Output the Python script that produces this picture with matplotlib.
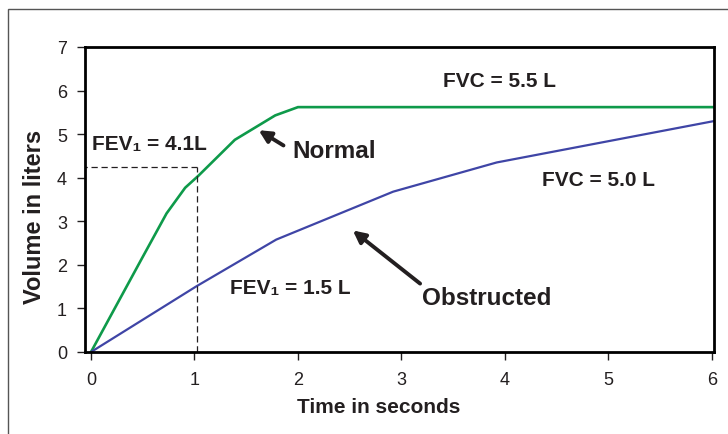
import matplotlib.pyplot as plt
from matplotlib.patches import Rectangle

plt.rcParams['font.family'] = ['Liberation Sans', 'DejaVu Sans']

# spirometry curves (time in s, volume in L)
normal_t = [0, 0.49, 0.73, 0.91, 1.04, 1.39, 1.78, 2.0, 6.02]
normal_v = [0, 2.14, 3.18, 3.77, 4.05, 4.87, 5.43, 5.62, 5.62]
obstr_t = [0, 1.02, 1.79, 2.92, 3.92, 6.02]
obstr_v = [0, 1.51, 2.58, 3.68, 4.35, 5.30]

fev1_t = 1.02
fev1_v = 4.24

x_ticks = [0, 1, 2, 3, 4, 5, 6]
y_ticks = [0, 1, 2, 3, 4, 5, 6, 7]

txt = '#231f20'
green = '#0e9a4a'
blue = '#3f45a6'

fig = plt.figure(figsize=(7.28, 4.35), dpi=100)
# outer frame of the figure (only left/top visible)
fig.patches.append(Rectangle((8 / 728, -0.1), 1.2, 1 - 10 / 435 + 0.1,
                             transform=fig.transFigure, fill=False,
                             edgecolor='#555555', lw=1.0))

ax = fig.add_axes([85 / 728, 82 / 435, 629 / 728, 305 / 435])

ax.plot(normal_t, normal_v, color=green, lw=1.9, solid_joinstyle='miter')
ax.plot(obstr_t, obstr_v, color=blue, lw=1.6)

# FEV1 guide lines
ax.plot([-0.1, fev1_t], [fev1_v, fev1_v], color=txt, lw=0.9, ls=(0, (5, 3)))
ax.plot([fev1_t, fev1_t], [0, fev1_v], color=txt, lw=0.9, ls=(0, (5, 3)))

ax.set_xlim(-0.058, 6.02)
ax.set_ylim(0, 7)
ax.set_xticks(x_ticks)
ax.set_yticks(y_ticks)
ax.tick_params(axis='both', direction='out', length=6, width=1.0,
               labelsize=13, colors=txt, labelcolor=txt)
ax.tick_params(axis='x', pad=8)
ax.tick_params(axis='y', pad=7)
for s in ax.spines.values():
    s.set_linewidth(2.0)
    s.set_color('black')

ax.set_xlabel('Time in seconds', fontsize=15, fontweight='bold', color=txt,
              va='center')
ax.xaxis.set_label_coords(0.467, -0.18)
ax.set_ylabel('Volume in liters', fontsize=17, fontweight='bold', color=txt,
              va='center')
ax.yaxis.set_label_coords(-0.08, 0.446)

tk = dict(fontsize=15, fontweight='bold', color=txt)
big = dict(fontsize=17.5, fontweight='bold', color=txt)
ax.text(0.01, 4.79, 'FEV\u2081 = 4.1L', ha='left', va='center', **tk)
ax.text(1.95, 4.63, 'Normal', ha='left', va='center', **big)
ax.text(3.95, 6.24, 'FVC = 5.5 L', ha='center', va='center', **tk)
ax.text(4.90, 3.96, 'FVC = 5.0 L', ha='center', va='center', **tk)
ax.text(1.34, 1.47, 'FEV\u2081 = 1.5 L', ha='left', va='center', **tk)
ax.text(3.20, 1.24, 'Obstructed', ha='left', va='center', **big)

arw = dict(arrowstyle='-|>', lw=2.8, color=txt, mutation_scale=18,
           shrinkA=0, shrinkB=0)
ax.annotate('', xy=(1.62, 5.09), xytext=(1.86, 4.74), arrowprops=arw)
ax.annotate('', xy=(2.53, 2.79), xytext=(3.18, 1.57), arrowprops=arw)

plt.savefig('out.png', dpi=100)
